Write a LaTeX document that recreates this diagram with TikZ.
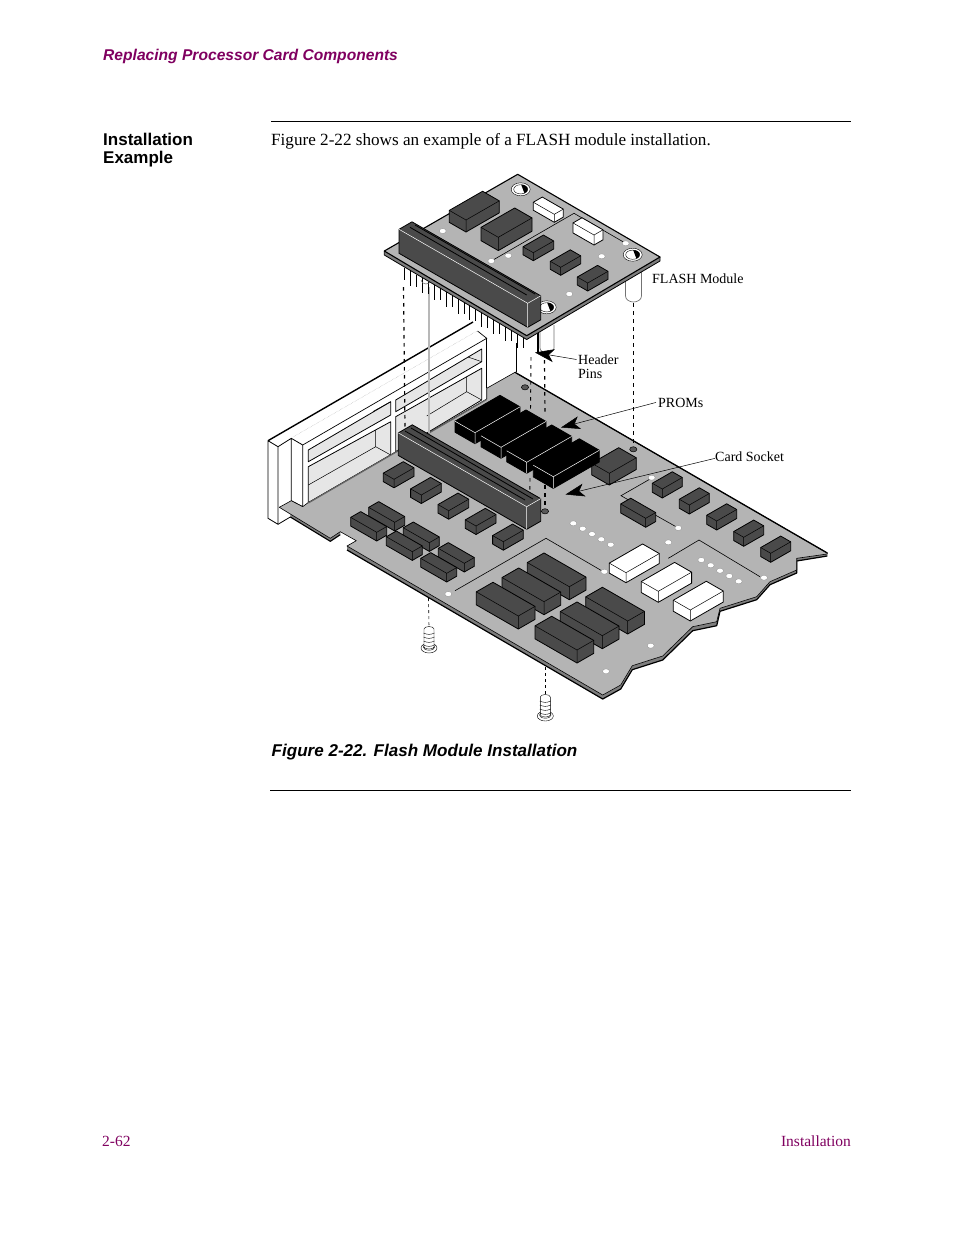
\documentclass[tikz,border=0pt]{standalone}
\usepackage{fontspec}
\setmainfont{Liberation Serif}
\setsansfont{Liberation Sans}
\usetikzlibrary{arrows.meta}
\definecolor{pur}{RGB}{128,0,96}
\definecolor{brd}{RGB}{180,180,180}
\definecolor{dk}{RGB}{74,74,74}
\definecolor{win}{RGB}{230,230,230}
\tikzset{
  outl/.style={draw=black,line width=0.8pt,line join=round},
  thinl/.style={line width=0.5pt},
  hole/.style={fill=white,draw=black!45,line width=0.3pt},
  dashv/.style={draw=black,line width=1.2pt,dash pattern=on 3.5pt off 4.5pt},
  dashs/.style={draw=black,line width=0.6pt,dash pattern=on 3pt off 3pt},
  pin/.style={draw=black,line width=0.8pt},
  leader/.style={draw=black,line width=0.5pt,-{Stealth[length=19pt,width=13pt,inset=5pt]}},
  lab/.style={font=\fontsize{14}{14}\selectfont,anchor=base west,inner sep=0pt,align=left},
  trace/.style={draw=black,line width=0.6pt}
}
% fill, inner edge colour, x, y, a, b, h
\newcommand{\ibx}[7]{%
  \pgfmathsetmacro\lx{#3-#5}\pgfmathsetmacro\ly{#4-#5*.575}%
  \pgfmathsetmacro\rx{#3+#6}\pgfmathsetmacro\ry{#4-#6*.575}%
  \pgfmathsetmacro\bx{#3-#5+#6}\pgfmathsetmacro\by{#4-#5*.575-#6*.575}%
  \pgfmathsetmacro\dy{#4+#7}\pgfmathsetmacro\dly{\ly+#7}\pgfmathsetmacro\dry{\ry+#7}%
  \path[outl,fill=#1] (\lx,\ly) -- (\bx,\by) -- (\rx,\ry) -- (\rx,\dry) -- (#3,\dy) -- (\lx,\dly) -- cycle;%
  \draw[#2,thinl] (\lx,\ly) -- (#3,#4) -- (\rx,\ry) (#3,#4) -- (#3,\dy);%
}
\newcommand{\bighl}[2]{%
  \path[fill=white,draw=black,line width=0.4pt] (#1,#2) ellipse[x radius=9.5pt,y radius=6.5pt];%
  \path[fill=white,draw=black,line width=0.4pt] (#1,#2) ellipse[x radius=7pt,y radius=4.6pt];%
  \fill[black] (#1+0.5,#2-4.6) arc[start angle=90,end angle=-60,x radius=6.5pt,y radius=4.6pt] -- cycle;}
\newcommand{\dkhl}[2]{\path[fill=black!65,draw=black,line width=0.5pt] (#1,#2) ellipse[x radius=3.6pt,y radius=2.6pt];}
\newcommand{\screw}[3]{% x, top y, name
  \path[draw=black,line width=0.4pt,fill=white] (#1,#2+21) ellipse[x radius=8pt,y radius=5pt];%
  \path[draw=black,line width=0.4pt,fill=white] (#1,#2+20) ellipse[x radius=5.8pt,y radius=3.2pt];%
  \path[draw=black,line width=0.4pt,fill=white] (#1-5,#2+2) -- (#1-5,#2+20) arc[start angle=180,end angle=360,x radius=5pt,y radius=2pt] -- (#1+5,#2+2) arc[start angle=0,end angle=180,x radius=5pt,y radius=2.5pt] -- cycle;%
  \foreach \k in {6,10,14,18}{\draw[line width=0.4pt,black] (#1-5.5,#2+\k) to[bend right=25] (#1+5.5,#2+\k);}%
  \coordinate (#3) at (#1,#2);}
\begin{document}
\begin{tikzpicture}[x=1pt,y=-1pt]
\useasboundingbox (0,0) rectangle (954,1235);
\fill[white] (0,0) rectangle (954,1235);
% page furniture
\node[anchor=base west,inner sep=0pt,text=pur,font=\sffamily\bfseries\itshape\fontsize{15.6}{17}\selectfont] (running) at (103,60) {Replacing Processor Card Components};
\coordinate (ruleAl) at (271,121.5); \coordinate (ruleAr) at (851,121.5);
\draw[black,line width=0.8pt] (ruleAl) -- (ruleAr);
\node[anchor=base west,inner sep=0pt,font=\sffamily\bfseries\fontsize{17}{18}\selectfont,align=left] (side1) at (103,145) {Installation};
\node[anchor=base west,inner sep=0pt,font=\sffamily\bfseries\fontsize{17}{18}\selectfont,align=left] (side2) at (103,163) {Example};
\node[anchor=base west,inner sep=0pt,font=\fontsize{17.13}{19}\selectfont] (intro) at (271,145) {Figure 2-22 shows an example of a FLASH module installation.};
\node[anchor=base west,inner sep=0pt,font=\sffamily\bfseries\itshape\fontsize{17.05}{18}\selectfont] (caption) at (271.5,756) {Figure 2-22. Flash Module Installation};
\coordinate (ruleBl) at (270,790.5); \coordinate (ruleBr) at (851,790.5);
\draw[black,line width=0.8pt] (ruleBl) -- (ruleBr);
\node[anchor=base west,inner sep=0pt,text=pur,font=\fontsize{15.5}{17}\selectfont] (pageno) at (102,1146) {2-62};
\node[anchor=base east,inner sep=0pt,text=pur,font=\fontsize{15.5}{17}\selectfont] (foot) at (851,1146) {Installation};
% main board rim
\path[fill=brd!70!black] (827.3,553) -- (827.3,556) -- (796.7,561) -- (796.7,573) -- (770,584.7) -- (756.7,599.7) -- (720,611.3) -- (716.7,625.7) -- (692.7,630.7) -- (662.7,660) -- (632.3,669.7) -- (620.7,689) -- (602.7,699) -- (347,550) -- (347,546) -- (602.7,695) -- (620.7,685) -- (632.3,665.7) -- (662.7,656) -- (692.7,626.7) -- (716.7,621.7) -- (720,608.3) -- (756.7,596.7) -- (770,581.7) -- (796.7,570) -- (796.7,558.3) -- cycle;
\draw[black,line width=1.2pt,line join=round] (827.3,556) -- (796.7,561) -- (796.7,573) -- (770,584.7) -- (756.7,599.7) -- (720,611.3) -- (716.7,625.7) -- (692.7,630.7) -- (662.7,660) -- (632.3,669.7) -- (620.7,689) -- (602.7,699) -- (347,550);
\path[fill=brd!70!black] (279.3,507.3) -- (279.3,510.3) -- (330.3,541.3) -- (340.3,534.7) -- (340.3,531.7) -- (330.3,538.3) -- cycle;
\draw[black,line width=1.1pt,line join=round] (279.3,510.3) -- (330.3,541.3) -- (340.3,534.7);
% bracket
\path[fill=white] (268,440.7) -- (473,322) -- (516,343) -- (516,372.3) -- (486.7,399) -- (308,502.7) -- (302.7,506.7) -- (291,500.7) -- (290.3,517) -- (278,524.3) -- (268,518.3) -- cycle;
\draw[black,line width=1.4pt] (268,440.7) -- (473,322);
\draw[outl] (268,440.7) -- (268,518.3) -- (278,524.3) -- (278,446.7) -- (268,440.7);
\draw[outl] (278,446.7) -- (291.3,438.3) -- (302.7,445) -- (302.7,506.7) -- (291.3,500.7) -- (291.3,438.3);
\draw[outl] (278,524.3) -- (290.3,517);
\draw[black!35,line width=0.4pt,densely dotted] (293,437) -- (477,331);
\draw[black,line width=0.7pt] (302.7,445) -- (486.7,338.3) -- (477.5,331);
\draw[black,line width=0.7pt] (486.7,338.3) -- (486.7,388.3);
\draw[black,line width=1pt] (516,343) -- (516,372.3);
% windows
\path[outl,fill=win] (308.3,450) -- (390.7,401.7) -- (390.7,415) -- (308.3,461.7) -- cycle;
\draw[black,thinl] (373,411.5) -- (390.7,401.7);
\path[outl,fill=win] (308.3,466.7) -- (390.7,421.7) -- (390.7,455) -- (308.3,502.7) -- cycle;
\draw[black,thinl] (375.7,430) -- (375.7,446.7) -- (390.7,455) (308.3,485) -- (375.7,446.7);
\path[outl,fill=win] (395.7,400) -- (481.7,349) -- (481.7,361.7) -- (395.7,411.7) -- cycle;
\draw[black,thinl] (468,357) -- (481.7,361.7);
\path[outl,fill=win] (395.7,416.7) -- (481.7,368.3) -- (481.7,400) -- (395.7,451.7) -- cycle;
\draw[black,thinl] (466.7,376.7) -- (466.7,391.7) -- (481.7,400) (466.7,391.7) -- (426.7,416);
% main board
\path[fill=brd,draw=black,line width=0.6pt,line join=round] (515,372.3) -- (827.3,553) -- (827.3,554) -- (796.7,558.3) -- (796.7,570) -- (770,581.7) -- (756.7,596.7) -- (720,608.3) -- (716.7,621.7) -- (692.7,626.7) -- (662.7,656) -- (632.3,665.7) -- (620.7,685) -- (602.7,695) -- (347,546) -- (356.3,540.7) -- (340.3,531.7) -- (330.3,538.3) -- (279.3,507.3) -- (291.3,500.7) -- (302.7,506.7) -- (308,502.7) -- (486.7,399) -- (486.7,388.3) -- cycle;
\draw[black,line width=1.3pt] (515,372.3) -- (827.3,553);
\draw[black!60,line width=1.2pt] (308.3,503) -- (486.7,399.5);
% traces
\draw[trace] (651,478.5) -- (621,495.7) -- (678.3,528);
\draw[trace] (668.3,558.3) -- (699,540) -- (760,576.7);
\draw[trace] (455,590.7) -- (546,538.3) -- (601,570.3);
% holes
\foreach \p in {(651.7,477.7),(678.3,528),(668.3,542.3),(573.3,523.3),(582.7,528.7),(592,534),(601.3,539.3),(610.7,544.7),(701.3,560),(710.7,565.3),(720,570.7),(729.3,576),(738.7,581.3),(604.3,571.7),(764,577.7),(448.3,594),(650.7,645.7),(606,671.3)}{\path[hole] \p ellipse[x radius=3.5pt,y radius=2.5pt];}
\dkhl{525}{387.3}
\dkhl{633.3}{449.3}
\dkhl{545}{511.3}
% alignment lines
\coordinate (d1a) at (403.5,287); \coordinate (d1b) at (405,427);
\draw[dashv] (d1a) -- (d1b);
\coordinate (g1a) at (429,287); \coordinate (g1b) at (429,433);
\draw[black!28,line width=1.2pt] (g1a) -- (g1b);
\coordinate (d2a) at (531,357); \coordinate (d2b) at (530.5,412);
\draw[dashv,line width=0.9pt] (d2a) -- (d2b);
\coordinate (d3a) at (544.5,360); \coordinate (d3b) at (545,415);
\draw[dashv] (d3a) -- (d3b);
\coordinate (d2c) at (530,478); \coordinate (d2d) at (529.8,498);
\draw[dashv,line width=0.9pt] (d2c) -- (d2d);
\coordinate (d3c) at (545,485); \coordinate (d3d) at (545,507);
\draw[dashv] (d3c) -- (d3d);
\coordinate (d4a) at (633.5,303); \coordinate (d4b) at (633.5,446);
\draw[dashv] (d4a) -- (d4b);
\coordinate (s1a) at (428.5,598); \coordinate (s2a) at (545.3,667);
% board components
\ibx{dk}{black}{394}{479.3}{10.7}{20}{8.5}
\ibx{dk}{black}{421.3}{495}{10.7}{20}{8.5}
\ibx{dk}{black}{448.7}{510.7}{10.7}{20}{8.5}
\ibx{dk}{black}{476}{526}{10.7}{20}{8.5}
\ibx{dk}{black}{503.3}{541.7}{10.7}{20}{8.5}
\ibx{dk}{black}{394.7}{522.3}{26}{10}{8.7}
\ibx{dk}{black}{376.7}{532.3}{26}{10}{8.7}
\ibx{dk}{black}{429.3}{542.7}{26}{10}{8.7}
\ibx{dk}{black}{412.3}{551.7}{26}{10}{8.7}
\ibx{dk}{black}{464.3}{563.3}{26}{10}{8.7}
\ibx{dk}{black}{446.7}{573.3}{26}{10}{8.7}
\ibx{dk}{black}{662.3}{489}{10}{20}{9}
\ibx{dk}{black}{689.3}{505}{10}{20}{9}
\ibx{dk}{black}{716.7}{521}{10}{20}{9}
\ibx{dk}{black}{743.7}{537.3}{10}{20}{9}
\ibx{dk}{black}{770.7}{553.3}{10}{20}{9}
\ibx{dk}{black}{645.7}{518.3}{25}{10}{9}
\ibx{dk}{black}{609.3}{473.3}{17.6}{27}{11.7}
\ibx{white}{black}{626}{572.7}{16.7}{33.3}{10}
\ibx{white}{black}{658.3}{591.3}{17}{33.3}{11}
\ibx{white}{black}{690.3}{610}{17}{33}{11}
\ibx{dk}{black}{569.3}{586.7}{42}{16.7}{13}
\ibx{dk}{black}{544}{601.7}{42}{16.7}{13}
\ibx{dk}{black}{518.3}{616}{42}{16.7}{13}
\ibx{dk}{black}{627.7}{621}{42}{16.7}{13}
\ibx{dk}{black}{602.3}{635.7}{42}{16.7}{13}
\ibx{dk}{black}{577}{650}{42}{16.7}{13}
% PROMs
\ibx{black}{white}{475}{432.7}{20}{45}{11}
\ibx{black}{white}{501}{447.3}{20}{45}{11}
\ibx{black}{white}{526.7}{462.3}{20}{45}{11}
\ibx{black}{white}{553.3}{476.7}{20}{46}{11.7}
% card socket
\ibx{dk}{white}{526.7}{506.7}{128.4}{14}{22.6}
\draw[black,line width=0.8pt] (405,431) -- (525,500) (411,428) -- (533,499);
% header pins
\foreach \i in {0,...,20}{
  \pgfmathsetmacro\px{404.5+\i*5.94}
  \pgfmathsetmacro\pt{268+\i*3.4}
  \pgfmathsetmacro\pb{\pt+12+mod(\i,2)*3}
  \draw[pin] (\px,\pt) -- (\px,\pb);
}
\draw[black,line width=1.8pt] (538.3,333) -- (538.3,353);
% stand-offs
\path[fill=white,draw=black!55,line width=0.7pt] (625.5,270) -- (625.5,296) arc[start angle=180,end angle=360,x radius=8pt,y radius=6pt] -- (641.5,270);
\path[fill=white,draw=black!55,line width=0.7pt] (540,325) -- (540,348) arc[start angle=180,end angle=360,x radius=7pt,y radius=5pt] -- (554,325);
\path[draw=black!55,line width=0.5pt] (421,280) arc[start angle=180,end angle=360,x radius=5pt,y radius=4pt];
% module board
\path[fill=brd!70!black,draw=black,line width=0.8pt,line join=round] (384.3,251) -- (384.3,255) -- (526.7,339.5) -- (660,261) -- (660,257) -- cycle;
\path[fill=brd,draw=black,line width=1.1pt,line join=round] (517.7,174.3) -- (660,257) -- (526.7,335.7) -- (384.3,251) -- cycle;
\draw[trace] (491.3,261) -- (574,213.3) -- (625.7,243.3);
\foreach \p in {(442.7,231),(491.3,261),(508.3,255.7),(601.7,256.3),(625.7,243.3),(569.3,294)}{\path[hole] \p ellipse[x radius=3.5pt,y radius=2.5pt];}
\bighl{520.7}{189.3}
\bighl{632.7}{254.7}
\bighl{546.7}{307.3}
% module components
\ibx{dk}{black}{466}{220}{16.7}{33.3}{12}
\ibx{dk}{black}{498.3}{237.3}{17.3}{33.7}{13.3}
\ibx{white}{black}{554.3}{214.3}{21}{9}{8}
\ibx{white}{black}{594}{235}{21}{9}{10}
\ibx{dk}{black}{533.3}{252.7}{10.3}{20.4}{8}
\ibx{dk}{black}{560.7}{267.3}{10.4}{20}{8}
\ibx{dk}{black}{587.7}{283}{10.4}{20.3}{8}
\ibx{dk}{white}{527.7}{303.3}{128.7}{13}{24}
\draw[black,line width=0.8pt] (410,227.3) -- (526.7,295) (415,225) -- (535,294);
% screws
\screw{429}{627}{sc1}
\screw{545.3}{695}{sc2}
\draw[dashs] (s1a) -- (sc1);
\draw[dashs] (s2a) -- (sc2);
% labels
\node[lab] (flash) at (652,283) {FLASH Module};
\node[lab] (header) at (578,378) {Header\\Pins};
\node[lab] (proms) at (658,407) {PROMs};
\node[lab] (socket) at (715,461) {Card Socket};
\coordinate (tipH) at (535,352.5);
\coordinate (tipP) at (561,427.5);
\coordinate (tipC) at (565.5,494.5);
\draw[leader] (576.5,359.5) -- (tipH);
\draw[leader] (proms.west) ++(-2,0) -- (tipP);
\draw[leader] (socket.south west) ++(0,-3) -- (tipC);
\end{tikzpicture}
\end{document}
